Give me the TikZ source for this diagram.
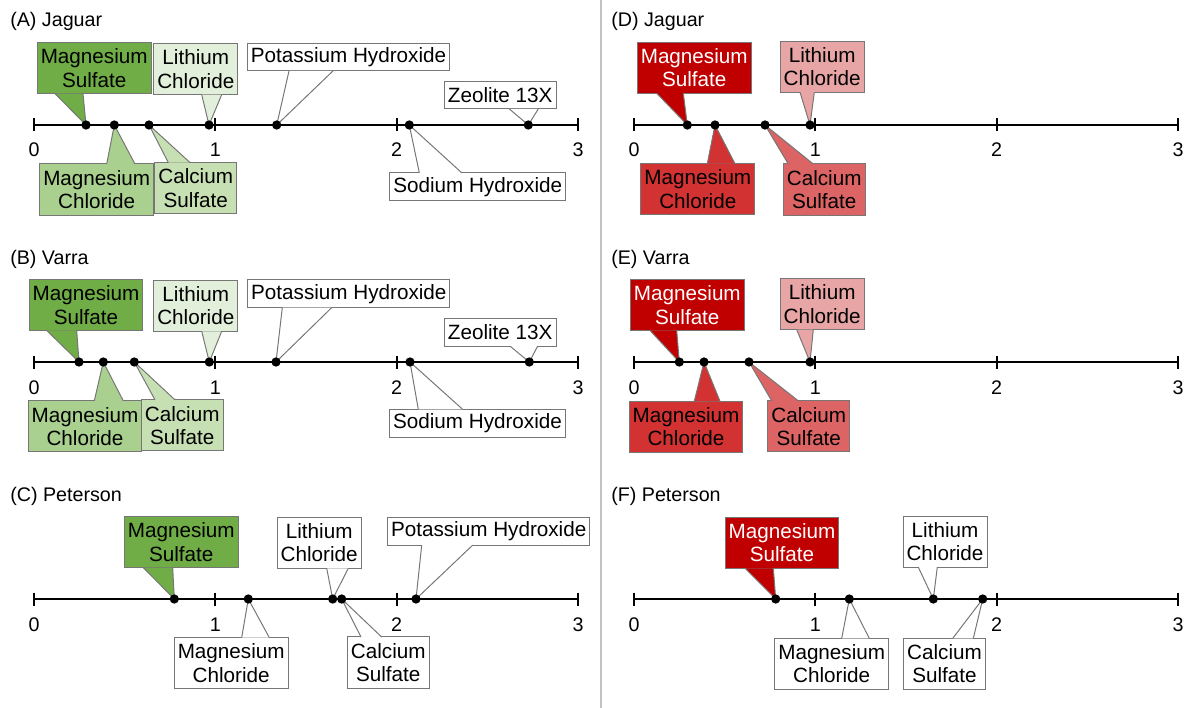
\documentclass[tikz,border=0pt]{standalone}
\usepackage{fontspec}
\setmainfont{Liberation Sans}
\usepackage{tikz}

\definecolor{gD}{RGB}{112,173,71}
\definecolor{gM}{RGB}{169,208,142}
\definecolor{gC}{RGB}{198,224,180}
\definecolor{gL}{RGB}{226,239,218}
\definecolor{rD}{RGB}{192,0,0}
\definecolor{rM}{RGB}{210,50,50}
\definecolor{rC}{RGB}{220,100,100}
\definecolor{rL}{RGB}{232,165,165}
\definecolor{edge}{RGB}{118,118,118}
\definecolor{divider}{RGB}{195,195,195}

\tikzset{
  lbox/.style={draw=edge, line width=0.7pt, inner xsep=2.5pt, inner ysep=1pt, align=center, fill=white,
    font=\fontsize{14.7}{16.6}\selectfont},
  twolines/.style={lbox, minimum height=36.3pt},
  oneline/.style={lbox, minimum height=19.9pt},
  wedgeline/.style={draw=edge, line width=0.7pt, fill=white},
  axisline/.style={line width=1.3pt, black},
  ticklbl/.style={anchor=base, font=\fontsize{14}{16}\selectfont},
  paneltitle/.style={anchor=base west, inner sep=0pt, font=\fontsize{14}{16}\selectfont}
}

\begin{document}
\begin{tikzpicture}[x=0.025cm, y=-0.025cm]
\useasboundingbox (0,0) rectangle (1187,708);
\draw[divider, line width=0.8pt] (601,0) -- (601,708);

% panel titles
\node[paneltitle] (tA) at (10,27) {(A) Jaguar};
\node[paneltitle] (tB) at (10,264) {(B) Varra};
\node[paneltitle] (tC) at (10,501) {(C) Peterson};
\node[paneltitle] (tD) at (611,27) {(D) Jaguar};
\node[paneltitle] (tE) at (611,264) {(E) Varra};
\node[paneltitle] (tF) at (611,501) {(F) Peterson};

% axes
\foreach \ox/\oy/\p in {0/125/a,0/362/b,0/599/c,600/125/d,600/362/e,600/599/f}{
  \draw[axisline] (\ox+34,\oy) -- (\ox+578,\oy);
  \foreach \t/\tx in {0/34,1/215.3,2/396.7,3/578}{
    \draw[axisline] (\ox+\tx,\oy-6.5) -- (\ox+\tx,\oy+6.5);
    \node[ticklbl] (\p\t) at (\ox+\tx,\oy+32) {\t};
  }
}

% (A) Jaguar
\coordinate (aMSd) at (86,125);
\coordinate (aMCd) at (114.3,125);
\coordinate (aCSd) at (149,125);
\coordinate (aLCd) at (209,125);
\coordinate (aKOHd) at (276.7,125);
\coordinate (aNaOHd) at (409.3,125);
\coordinate (aZXd) at (528.3,125);
\node[twolines, fill=gD] (aMS) at (94.2,68.2) {Magnesium\\Sulfate};
\node[twolines, fill=gL] (aLC) at (195.8,69.2) {Lithium\\Chloride};
\node[oneline] (aKOH) at (348.5,57) {Potassium Hydroxide};
\node[oneline] (aZX) at (500.2,95) {Zeolite 13X};
\node[twolines, fill=gM] (aMC) at (96.7,189.5) {Magnesium\\Chloride};
\node[twolines, fill=gC] (aCS) at (195.7,188) {Calcium\\Sulfate};
\node[oneline] (aNaOH) at (477.7,186.7) {Sodium Hydroxide};
\draw[wedgeline, fill=gD] ([yshift=.4pt]55,0 |- aMS.south) -- (aMSd) -- ([yshift=.4pt]83,0 |- aMS.south);
\draw[wedgeline, fill=gL] ([yshift=.4pt]201.7,0 |- aLC.south) -- (aLCd) -- ([yshift=.4pt]221.7,0 |- aLC.south);
\draw[wedgeline] ([yshift=.4pt]289,0 |- aKOH.south) -- (aKOHd) -- ([yshift=.4pt]333,0 |- aKOH.south);
\draw[wedgeline] ([yshift=.4pt]509.3,0 |- aZX.south) -- (aZXd) -- ([yshift=.4pt]538.3,0 |- aZX.south);
\draw[wedgeline, fill=gM] ([yshift=-.4pt]106.7,0 |- aMC.north) -- (aMCd) -- ([yshift=-.4pt]135,0 |- aMC.north);
\draw[wedgeline, fill=gC] ([yshift=-.4pt]168.3,0 |- aCS.north) -- (aCSd) -- ([yshift=-.4pt]190,0 |- aCS.north);
\draw[wedgeline] ([yshift=-.4pt]419.3,0 |- aNaOH.north) -- (aNaOHd) -- ([yshift=-.4pt]461.7,0 |- aNaOH.north);

% (B) Varra
\coordinate (bMSd) at (79,362);
\coordinate (bMCd) at (103.3,362);
\coordinate (bCSd) at (134.3,362);
\coordinate (bLCd) at (209.3,362);
\coordinate (bKOHd) at (276,362);
\coordinate (bNaOHd) at (410,362);
\coordinate (bZXd) at (529.3,362);
\node[twolines, fill=gD] (bMS) at (86,305) {Magnesium\\Sulfate};
\node[twolines, fill=gL] (bLC) at (195.8,305.8) {Lithium\\Chloride};
\node[oneline] (bKOH) at (348.8,293.7) {Potassium Hydroxide};
\node[oneline] (bZX) at (500.2,332.2) {Zeolite 13X};
\node[twolines, fill=gM] (bMC) at (85,426.3) {Magnesium\\Chloride};
\node[twolines, fill=gC] (bCS) at (182.2,425.3) {Calcium\\Sulfate};
\node[oneline] (bNaOH) at (477.5,423.3) {Sodium Hydroxide};
\draw[wedgeline, fill=gD] ([yshift=.4pt]46.7,0 |- bMS.south) -- (bMSd) -- ([yshift=.4pt]76.7,0 |- bMS.south);
\draw[wedgeline, fill=gL] ([yshift=.4pt]201.7,0 |- bLC.south) -- (bLCd) -- ([yshift=.4pt]221.7,0 |- bLC.south);
\draw[wedgeline] ([yshift=.4pt]282.3,0 |- bKOH.south) -- (bKOHd) -- ([yshift=.4pt]331.7,0 |- bKOH.south);
\draw[wedgeline] ([yshift=.4pt]510,0 |- bZX.south) -- (bZXd) -- ([yshift=.4pt]537.7,0 |- bZX.south);
\draw[wedgeline, fill=gM] ([yshift=-.4pt]94.3,0 |- bMC.north) -- (bMCd) -- ([yshift=-.4pt]123.3,0 |- bMC.north);
\draw[wedgeline, fill=gC] ([yshift=-.4pt]155,0 |- bCS.north) -- (bCSd) -- ([yshift=-.4pt]175,0 |- bCS.north);
\draw[wedgeline] ([yshift=-.4pt]418.3,0 |- bNaOH.north) -- (bNaOHd) -- ([yshift=-.4pt]462.7,0 |- bNaOH.north);

% (C) Peterson
\coordinate (cMSd) at (174.3,599);
\coordinate (cMCd) at (248.3,599);
\coordinate (cLCd) at (332.7,599);
\coordinate (cCSd) at (341.7,599);
\coordinate (cKOHd) at (416,599);
\node[twolines, fill=gD] (cMS) at (181.3,542.2) {Magnesium\\Sulfate};
\node[twolines] (cLC) at (319.2,542.8) {Lithium\\Chloride};
\node[oneline] (cKOH) at (488.7,531.2) {Potassium Hydroxide};
\node[twolines] (cMC) at (231.2,663) {Magnesium\\Chloride};
\node[twolines] (cCS) at (388.3,662.5) {Calcium\\Sulfate};
\draw[wedgeline, fill=gD] ([yshift=.4pt]143.3,0 |- cMS.south) -- (cMSd) -- ([yshift=.4pt]172.7,0 |- cMS.south);
\draw[wedgeline] ([yshift=.4pt]326.7,0 |- cLC.south) -- (cLCd) -- ([yshift=.4pt]348.3,0 |- cLC.south);
\draw[wedgeline] ([yshift=.4pt]421.7,0 |- cKOH.south) -- (cKOHd) -- ([yshift=.4pt]472.7,0 |- cKOH.south);
\draw[wedgeline] ([yshift=-.4pt]241.7,0 |- cMC.north) -- (cMCd) -- ([yshift=-.4pt]269.3,0 |- cMC.north);
\draw[wedgeline] ([yshift=-.4pt]361,0 |- cCS.north) -- (cCSd) -- ([yshift=-.4pt]381.7,0 |- cCS.north);

% (D) Jaguar
\coordinate (dMSd) at (687.3,125);
\coordinate (dMCd) at (715,125);
\coordinate (dCSd) at (765,125);
\coordinate (dLCd) at (810,125);
\node[twolines, fill=rD, text=white] (dMS) at (694.2,67.8) {Magnesium\\Sulfate};
\node[twolines, fill=rL] (dLC) at (822.2,66.8) {Lithium\\Chloride};
\node[twolines, fill=rM] (dMC) at (697.8,189.2) {Magnesium\\Chloride};
\node[twolines, fill=rC] (dCS) at (824.2,189.5) {Calcium\\Sulfate};
\draw[wedgeline, fill=rD] ([yshift=.4pt]656.7,0 |- dMS.south) -- (dMSd) -- ([yshift=.4pt]683.3,0 |- dMS.south);
\draw[wedgeline, fill=rL] ([yshift=.4pt]800,0 |- dLC.south) -- (dLCd) -- ([yshift=.4pt]814.3,0 |- dLC.south);
\draw[wedgeline, fill=rM] ([yshift=-.4pt]707.3,0 |- dMC.north) -- (dMCd) -- ([yshift=-.4pt]735,0 |- dMC.north);
\draw[wedgeline, fill=rC] ([yshift=-.4pt]788.3,0 |- dCS.north) -- (dCSd) -- ([yshift=-.4pt]813.3,0 |- dCS.north);

% (E) Varra
\coordinate (eMSd) at (679.3,362);
\coordinate (eMCd) at (704,362);
\coordinate (eCSd) at (749,362);
\coordinate (eLCd) at (810,362);
\node[twolines, fill=rD, text=white] (eMS) at (687.3,305) {Magnesium\\Sulfate};
\node[twolines, fill=rL] (eLC) at (822.2,304.2) {Lithium\\Chloride};
\node[twolines, fill=rM] (eMC) at (686,426.7) {Magnesium\\Chloride};
\node[twolines, fill=rC] (eCS) at (808.8,426.3) {Calcium\\Sulfate};
\draw[wedgeline, fill=rD] ([yshift=.4pt]650,0 |- eMS.south) -- (eMSd) -- ([yshift=.4pt]676.7,0 |- eMS.south);
\draw[wedgeline, fill=rL] ([yshift=.4pt]796.7,0 |- eLC.south) -- (eLCd) -- ([yshift=.4pt]813.3,0 |- eLC.south);
\draw[wedgeline, fill=rM] ([yshift=-.4pt]694.3,0 |- eMC.north) -- (eMCd) -- ([yshift=-.4pt]720,0 |- eMC.north);
\draw[wedgeline, fill=rC] ([yshift=-.4pt]771.7,0 |- eCS.north) -- (eCSd) -- ([yshift=-.4pt]798.3,0 |- eCS.north);

% (F) Peterson
\coordinate (fMSd) at (775.7,599);
\coordinate (fMCd) at (849.3,599);
\coordinate (fLCd) at (933.3,599);
\coordinate (fCSd) at (982.7,599);
\node[twolines, fill=rD, text=white] (fMS) at (782,542.8) {Magnesium\\Sulfate};
\node[twolines] (fLC) at (945,541.7) {Lithium\\Chloride};
\node[twolines] (fMC) at (831.7,663.8) {Magnesium\\Chloride};
\node[twolines] (fCS) at (944.5,663.8) {Calcium\\Sulfate};
\draw[wedgeline, fill=rD] ([yshift=.4pt]745,0 |- fMS.south) -- (fMSd) -- ([yshift=.4pt]773.3,0 |- fMS.south);
\draw[wedgeline] ([yshift=.4pt]918.3,0 |- fLC.south) -- (fLCd) -- ([yshift=.4pt]937.3,0 |- fLC.south);
\draw[wedgeline] ([yshift=-.4pt]841.7,0 |- fMC.north) -- (fMCd) -- ([yshift=-.4pt]869.3,0 |- fMC.north);
\draw[wedgeline] ([yshift=-.4pt]952.7,0 |- fCS.north) -- (fCSd) -- ([yshift=-.4pt]973.3,0 |- fCS.north);

% dots on the axes
\foreach \d in {aMSd,aMCd,aCSd,aLCd,aKOHd,aNaOHd,aZXd,bMSd,bMCd,bCSd,bLCd,bKOHd,bNaOHd,bZXd,
  cMSd,cMCd,cLCd,cCSd,cKOHd,dMSd,dMCd,dCSd,dLCd,eMSd,eMCd,eCSd,eLCd,fMSd,fMCd,fLCd,fCSd}
  \fill (\d) circle (3.3pt);
\end{tikzpicture}
\end{document}
